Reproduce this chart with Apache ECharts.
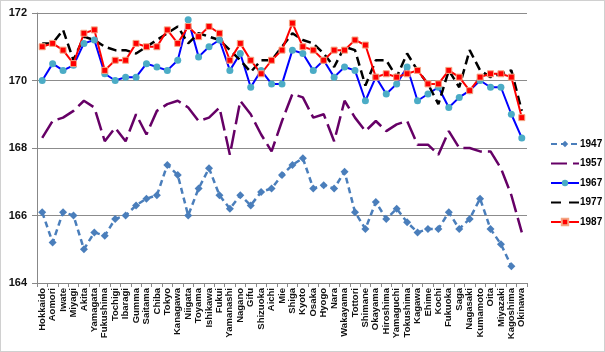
<!DOCTYPE html>
<html>
<head>
<meta charset="utf-8">
<script src="https://cdn.jsdelivr.net/npm/echarts@6/dist/echarts.min.js"></script>
<style>
    html, body { margin: 0; padding: 0; background: #fff; }
    #chart { width: 605px; height: 352px; box-sizing: border-box; border: 1px solid #d0d0d0; }
</style>
</head>
<body>
<div id="chart"></div>
<script>
    // prefectures in the order of the x axis
    const prefectures = ["Hokkaido", "Aomori", "Iwate", "Miyagi", "Akita", "Yamagata", "Fukushima", "Tochigi", "Ibaragi", "Gumma",
        "Saitama", "Chiba", "Tokyo", "Kanagawa", "Niigata", "Toyama", "Ishikawa", "Fukui", "Yamanashi", "Nagano",
        "Gifu", "Shizuoka", "Aichi", "Mie", "Shiga", "Kyoto", "Osaka", "Hyogo", "Nara", "Wakayama",
        "Tottori", "Shimane", "Okayama", "Hiroshima", "Yamaguchi", "Tokushima", "Kagawa", "Ehime", "Kochi", "Fukuoka",
        "Saga", "Nagasaki", "Kumamoto", "Oita", "Miyazaki", "Kagoshima", "Okinawa"];

    const yTicks = [164, 166, 168, 170, 172];

    const h1947 = [166.1, 165.2, 166.1, 166.0, 165.0, 165.5, 165.4, 165.9, 166.0, 166.3,
        166.5, 166.6, 167.5, 167.2, 166.0, 166.8, 167.4, 166.6, 166.2, 166.6,
        166.3, 166.7, 166.8, 167.2, 167.5, 167.7, 166.8, 166.9, 166.8, 167.3,
        166.1, 165.6, 166.4, 165.9, 166.2, 165.8, 165.5, 165.6, 165.6, 166.1,
        165.6, 165.9, 166.5, 165.6, 165.15, 164.5, null];

    const h1957 = [168.3, 168.8, 168.9, 169.1, 169.4, 169.2, 168.2, 168.6, 168.2, 169.0,
        168.4, 169.1, 169.3, 169.4, 169.2, 168.8, 168.9, 169.2, 167.8, 169.4,
        169.0, 168.4, 167.9, 168.8, 169.6, 169.5, 168.9, 169.0, 168.2, 169.4,
        168.9, 168.5, 168.8, 168.5, 168.7, 168.8, 168.1, 168.1, 167.8, 168.5,
        168.0, 168.0, 167.9, 167.9, 167.4, 166.6, 165.5];

    const h1967 = [170.0, 170.5, 170.3, 170.45, 171.1, 171.2, 170.2, 170.0, 170.1, 170.1,
        170.5, 170.4, 170.3, 170.6, 171.8, 170.7, 171.0, 171.2, 170.3, 170.8,
        169.8, 170.3, 169.9, 169.9, 170.9, 170.8, 170.3, 170.6, 170.1, 170.4,
        170.3, 169.4, 170.1, 169.6, 169.9, 170.4, 169.4, 169.6, 169.8, 169.2,
        169.5, 169.7, 170.0, 169.8, 169.8, 169.0, 168.3];

    const h1977 = [171.1, 171.1, 171.5, 170.6, 171.3, 171.2, 171.0, 170.9, 170.9, 170.8,
        171.0, 171.2, 171.4, 171.6, 171.1, 171.4, 171.3, 171.2, 170.9, 170.6,
        170.25, 170.6, 170.6, 171.0, 171.4, 171.2, 171.1, 170.8, 170.4, 171.0,
        170.9, 169.85, 170.6, 170.6, 170.1, 170.8, 170.3, 169.9, 169.3, 170.3,
        169.8, 170.9, 170.3, 170.1, 170.2, 170.3, 169.1];

    const h1987 = [171.0, 171.1, 170.9, 170.5, 171.4, 171.5, 170.3, 170.6, 170.6, 171.1,
        171.0, 171.0, 171.5, 171.1, 171.6, 171.3, 171.6, 171.4, 170.6, 171.1,
        170.6, 170.2, 170.6, 170.9, 171.7, 171.0, 170.9, 170.6, 170.9, 170.9,
        171.2, 171.05, 170.1, 170.2, 170.1, 170.2, 170.3, 169.9, 169.9, 170.3,
        170.1, 169.7, 170.1, 170.2, 170.2, 170.1, 168.9];

    const chart = echarts.init(document.getElementById("chart"));
    chart.setOption({
        animation: false,
        textStyle: { fontFamily: "Liberation Sans, Arial, sans-serif" },
        legend: {
            orient: "vertical",
            left: 544,
            top: 133,
            itemWidth: 28,
            itemHeight: 8,
            itemGap: 9.5,
            textStyle: { fontSize: 10, color: "#000", fontWeight: "bold", padding: [0, 0, 0, -4] },
            data: [
                { name: "1947" },
                { name: "1957", itemStyle: { opacity: 0 }, lineStyle: { type: [16, 6] } },
                { name: "1967" },
                { name: "1977", itemStyle: { opacity: 0 }, lineStyle: { type: [10, 8] } },
                { name: "1987" }
            ]
        },
        grid: {
            left: 36,
            right: 77,
            top: 12,
            bottom: 68,
            containLabel: false
        },
        xAxis: {
            type: "category",
            data: prefectures,
            boundaryGap: true,
            axisLine: { lineStyle: { color: "#888", width: 1 } },
            axisTick: { show: true, length: 4, lineStyle: { color: "#888" } },
            axisLabel: {
                interval: 0,
                rotate: 90,
                fontSize: 9.5,
                fontWeight: "bold",
                color: "#111",
                margin: 5
            }
        },
        yAxis: {
            type: "value",
            min: yTicks[0],
            max: yTicks[yTicks.length - 1],
            interval: 2,
            axisLine: { show: true, lineStyle: { color: "#888" } },
            axisTick: { show: true, length: 5, lineStyle: { color: "#888" } },
            axisLabel: { fontSize: 11, fontWeight: "bold", color: "#111", margin: 10 },
            splitLine: { lineStyle: { color: "#8c8c8c", width: 1 } }
        },
        series: [
            {
                name: "1947",
                type: "line",
                data: h1947,
                symbol: "diamond",
                symbolSize: 8,
                itemStyle: { color: "#4a7ebb" },
                lineStyle: { color: "#4a7ebb", width: 2.5, type: [6, 4] }
            },
            {
                name: "1957",
                type: "line",
                data: h1957,
                symbol: "none",
                itemStyle: { color: "#660066" },
                lineStyle: { color: "#660066", width: 2.5, type: [19, 6] }
            },
            {
                name: "1967",
                type: "line",
                data: h1967,
                symbol: "circle",
                symbolSize: 7,
                itemStyle: { color: "#4bacc6", borderWidth: 0 },
                lineStyle: { color: "#0000ff", width: 2 }
            },
            {
                name: "1977",
                type: "line",
                data: h1977,
                symbol: "none",
                itemStyle: { color: "#000" },
                lineStyle: { color: "#000", width: 2.5, type: [9, 5] }
            },
            {
                name: "1987",
                type: "line",
                data: h1987,
                symbol: "rect",
                symbolSize: 6,
                itemStyle: { color: "#ff0000", borderColor: "#f4a582", borderWidth: 1 },
                lineStyle: { color: "#ff0000", width: 2 }
            }
        ]
    });
</script>
</body>
</html>
